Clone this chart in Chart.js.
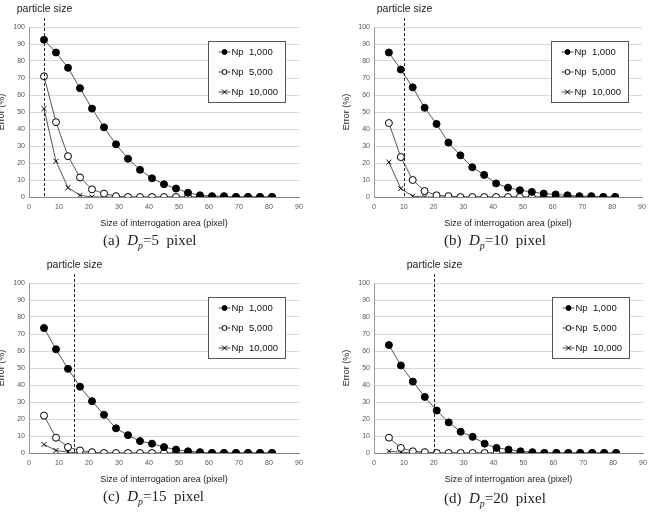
<!DOCTYPE html>
<html>
<head>
<meta charset="utf-8">
<script src="https://cdn.jsdelivr.net/npm/chart.js@4.4.0/dist/chart.umd.min.js"></script>
<style>
  body { margin: 0; background: #fff; width: 652px; height: 512px; overflow: hidden; position: relative; }
  canvas.panel { position: absolute; }
  .cap { position: absolute; font-family: "Liberation Serif", "DejaVu Serif", serif; font-size: 15px; color: #222; white-space: pre; }
  .cap sub { font-size: 10px; }
</style>
</head>
<body>
<canvas class="panel" id="pa" width="345" height="256" style="left:-19px;top:0px"></canvas>
<canvas class="panel" id="pb" width="326" height="256" style="left:326px;top:0px"></canvas>
<canvas class="panel" id="pc" width="345" height="256" style="left:-19px;top:256px"></canvas>
<canvas class="panel" id="pd" width="326" height="256" style="left:326px;top:256px"></canvas>
<div class="cap" style="left:103px;top:232px">(a)  <i>D</i><sub><i>p</i></sub>=5  pixel</div>
<div class="cap" style="left:444px;top:232px">(b)  <i>D</i><sub><i>p</i></sub>=10  pixel</div>
<div class="cap" style="left:103px;top:488px">(c)  <i>D</i><sub><i>p</i></sub>=15  pixel</div>
<div class="cap" style="left:444px;top:490px">(d)  <i>D</i><sub><i>p</i></sub>=20  pixel</div>
<script>
// interrogation window sizes (pixel)
const sizes = [5, 9, 13, 17, 21, 25, 29, 33, 37, 41, 45, 49, 53, 57, 61, 65, 69, 73, 77, 81];
const particleSizes = [5, 10, 15, 20];
const seriesNames = ['Np  1,000', 'Np  5,000', 'Np  10,000'];

// (a) Dp = 5
const errA1000 = [92.5, 85, 76, 64, 52, 41, 31, 22.5, 16, 11, 7.5, 5, 2.5, 1, 0.5, 0.5, 0, 0, 0, 0];
const errA5000 = [71, 44, 24, 11.5, 4.5, 2, 0.5, 0, 0, 0, 0, 0, 0, 0, 0, 0, 0, 0, 0, 0];
const errA10000 = [52, 21, 5.5, 1, 0, 0, 0, 0, 0, 0, 0, 0, 0, 0, 0, 0, 0, 0, 0, 0];
// (b) Dp = 10
const errB1000 = [85, 75, 64.5, 52.5, 43, 32, 24.5, 17.5, 13, 8, 5.5, 4, 3, 2, 1.5, 1, 0.5, 0.5, 0, 0];
const errB5000 = [43.5, 23.5, 10, 3.5, 1, 0.5, 0, 0, 0, 0, 0, 0, 0, 0, 0, 0, 0, 0, 0, 0];
const errB10000 = [20.5, 5, 0.5, 0, 0, 0, 0, 0, 0, 0, 0, 0, 0, 0, 0, 0, 0, 0, 0, 0];
// (c) Dp = 15
const errC1000 = [73.5, 61, 49.5, 39, 30.5, 22.5, 14.5, 10.5, 7, 5.5, 3.5, 2, 1, 0.5, 0, 0, 0, 0, 0, 0];
const errC5000 = [22, 9, 3.5, 1.5, 0.5, 0, 0, 0, 0, 0, 0, 0, 0, 0, 0, 0, 0, 0, 0, 0];
const errC10000 = [5, 1.5, 0.5, 0, 0, 0, 0, 0, 0, 0, 0, 0, 0, 0, 0, 0, 0, 0, 0, 0];
// (d) Dp = 20
const errD1000 = [63.5, 51.5, 42, 33, 25, 18, 12.5, 9.5, 5.5, 3, 2, 1, 0.5, 0, 0, 0, 0, 0, 0, 0];
const errD5000 = [9, 3, 1, 0.5, 0, 0, 0, 0, 0, 0, 0, 0, 0, 0, 0, 0, 0, 0, 0, 0];
const errD10000 = [1, 0.5, 0, 0, 0, 0, 0, 0, 0, 0, 0, 0, 0, 0, 0, 0, 0, 0, 0, 0];

const FONT = 'Arial, "Liberation Sans", sans-serif';

const particleLine = {
  id: 'particleLine',
  afterDatasetsDraw(chart, args, opts) {
    const ctx = chart.ctx;
    const x = Math.round(chart.scales.x.getPixelForValue(opts.value)) + 0.5;
    ctx.save();
    ctx.strokeStyle = '#222';
    ctx.lineWidth = 1;
    ctx.setLineDash([3, 2]);
    ctx.beginPath();
    ctx.moveTo(x, 18);
    ctx.lineTo(x, chart.chartArea.bottom);
    ctx.stroke();
    ctx.setLineDash([]);
    ctx.fillStyle = '#222';
    ctx.font = '10.5px ' + FONT;
    ctx.textAlign = 'center';
    ctx.textBaseline = 'middle';
    ctx.fillText('particle size', x, 9);
    ctx.restore();
  }
};

// boxed legend with the line running through the marker
const boxLegend = {
  id: 'boxLegend',
  afterDatasetsDraw(chart) {
    const ctx = chart.ctx, area = chart.chartArea;
    const bx = Math.round(area.right - 91) + 0.5, by = Math.round(area.top + 14) + 0.5;
    ctx.save();
    ctx.fillStyle = '#fff';
    ctx.strokeStyle = '#555';
    ctx.lineWidth = 1;
    ctx.fillRect(bx, by, 77, 61);
    ctx.strokeRect(bx, by, 77, 61);
    chart.data.datasets.forEach((ds, i) => {
      const y = by + 10.5 + i * 20;
      const cx = bx + 16, r = 2.5;
      ctx.strokeStyle = ds.borderColor;
      ctx.beginPath();
      ctx.moveTo(bx + 10, y);
      ctx.lineTo(bx + 22, y);
      ctx.stroke();
      ctx.fillStyle = ds.pointBackgroundColor;
      ctx.strokeStyle = ds.pointBorderColor;
      ctx.beginPath();
      if (ds.pointStyle === 'circle') {
        ctx.arc(cx, y, r, 0, Math.PI * 2);
        ctx.fill();
        ctx.stroke();
      } else {
        ctx.moveTo(cx - r, y - r); ctx.lineTo(cx + r, y + r);
        ctx.moveTo(cx - r, y + r); ctx.lineTo(cx + r, y - r);
        ctx.stroke();
      }
      ctx.fillStyle = '#111';
      ctx.font = '9.5px ' + FONT;
      ctx.textAlign = 'left';
      ctx.textBaseline = 'middle';
      ctx.fillText(ds.label, bx + 23, y + 0.5);
    });
    ctx.restore();
  }
};

function makeChart(id, dp, padRight, s1000, s5000, s10000) {
  const mk = (label, data, style, fill) => ({
    label: label,
    data: sizes.map((x, i) => ({ x: x, y: data[i] })),
    borderColor: '#555',
    borderWidth: 1,
    pointStyle: style,
    pointRadius: 3.5,
    pointBackgroundColor: fill,
    pointBorderColor: '#000',
    pointBorderWidth: 1
  });
  new Chart(document.getElementById(id), {
    type: 'line',
    data: {
      datasets: [
        mk(seriesNames[0], s1000, 'circle', '#000'),
        mk(seriesNames[1], s5000, 'circle', '#fff'),
        mk(seriesNames[2], s10000, 'crossRot', '#000')
      ]
    },
    plugins: [particleLine, boxLegend],
    options: {
      responsive: false,
      animation: false,
      layout: { padding: { left: 0, right: padRight, top: 27, bottom: 23 } },
      plugins: {
        legend: { display: false },
        tooltip: { enabled: false },
        particleLine: { value: dp }
      },
      scales: {
        x: {
          type: 'linear', min: 0, max: 90,
          ticks: { stepSize: 10, color: '#555', font: { size: 7, family: FONT }, padding: 3, maxRotation: 0 },
          grid: { display: false, drawTicks: true, tickLength: 3 },
          border: { color: '#888' },
          title: { display: true, text: 'Size of interrogation area (pixel)', color: '#222', font: { size: 9, family: FONT }, padding: { top: 2, bottom: 4 } },
          afterFit: s => { s.height = 36; }
        },
        y: {
          min: 0, max: 100,
          ticks: { stepSize: 10, color: '#555', font: { size: 7, family: FONT }, padding: 4 },
          grid: { color: '#d9d9d9', drawTicks: false },
          border: { color: '#999' },
          title: { display: true, text: 'Error (%)', color: '#222', font: { size: 9, family: FONT }, padding: { top: 15, bottom: 4 } },
          afterFit: s => { s.width = 48; }
        }
      }
    }
  });
}

makeChart('pa', particleSizes[0], 27, errA1000, errA5000, errA10000);
makeChart('pb', particleSizes[1], 10, errB1000, errB5000, errB10000);
makeChart('pc', particleSizes[2], 27, errC1000, errC5000, errC10000);
makeChart('pd', particleSizes[3], 9, errD1000, errD5000, errD10000);
</script>
</body>
</html>
